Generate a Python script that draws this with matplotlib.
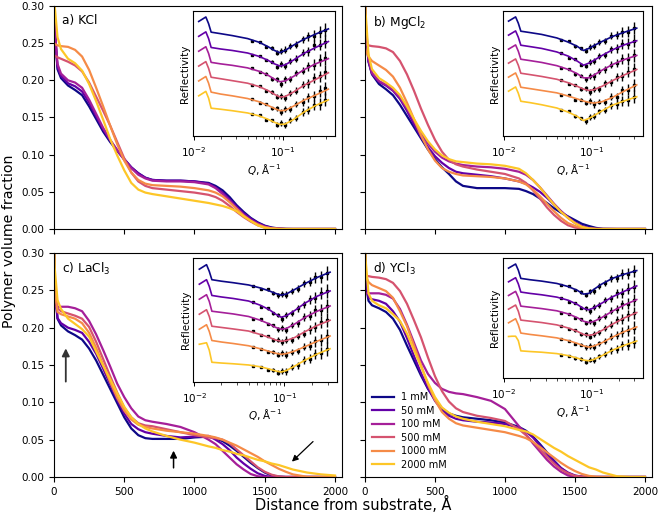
import numpy as np
import matplotlib
matplotlib.use("Agg")
import matplotlib.pyplot as plt
from matplotlib.ticker import NullFormatter, FixedLocator, LogLocator

# ---------------- profile data (distance from substrate, Angstrom) ----------------
distance = [0, 5, 25, 50, 100, 150, 200, 250, 300, 350, 400, 450, 500, 550, 600, 650, 700,
            800, 900, 1000, 1100, 1150, 1200, 1250, 1300, 1350, 1400, 1450, 1500, 1550, 1600,
            1650, 1700, 1800, 1900, 2000]
labels = ["1 mM", "50 mM", "100 mM", "500 mM", "1000 mM", "2000 mM"]

kcl_1 = [0.34, 0.27, 0.215, 0.203, 0.193, 0.187, 0.180, 0.165, 0.148, 0.131, 0.117, 0.105, 0.094, 0.083, 0.075, 0.069, 0.066, 0.065, 0.065, 0.064, 0.062, 0.058, 0.052, 0.043, 0.032, 0.023, 0.015, 0.009, 0.0045, 0.002, 0.0007, 0.0002, 0, 0, 0, 0]
kcl_50 = [0.34, 0.27, 0.218, 0.206, 0.196, 0.192, 0.185, 0.170, 0.152, 0.134, 0.119, 0.106, 0.094, 0.083, 0.075, 0.069, 0.066, 0.065, 0.065, 0.064, 0.061, 0.056, 0.049, 0.040, 0.030, 0.021, 0.014, 0.008, 0.004, 0.0015, 0.0005, 0, 0, 0, 0, 0]
kcl_100 = [0.34, 0.27, 0.222, 0.209, 0.200, 0.197, 0.190, 0.174, 0.155, 0.136, 0.120, 0.106, 0.093, 0.082, 0.073, 0.068, 0.065, 0.064, 0.064, 0.063, 0.060, 0.055, 0.047, 0.038, 0.028, 0.019, 0.012, 0.007, 0.003, 0.001, 0.0003, 0, 0, 0, 0, 0]
kcl_500 = [0.234, 0.233, 0.231, 0.229, 0.225, 0.220, 0.212, 0.197, 0.178, 0.159, 0.139, 0.117, 0.095, 0.076, 0.064, 0.058, 0.055, 0.053, 0.051, 0.049, 0.046, 0.043, 0.038, 0.031, 0.023, 0.016, 0.010, 0.005, 0.002, 0.0008, 0.0002, 0, 0, 0, 0, 0]
kcl_1000 = [0.250, 0.249, 0.247, 0.246, 0.245, 0.241, 0.232, 0.214, 0.190, 0.165, 0.139, 0.114, 0.092, 0.076, 0.066, 0.061, 0.059, 0.058, 0.057, 0.055, 0.052, 0.049, 0.044, 0.036, 0.027, 0.018, 0.011, 0.006, 0.0025, 0.0008, 0.0002, 0, 0, 0, 0, 0]
kcl_2000 = [0.34, 0.30, 0.258, 0.242, 0.229, 0.223, 0.213, 0.195, 0.172, 0.147, 0.121, 0.099, 0.079, 0.062, 0.053, 0.049, 0.047, 0.044, 0.041, 0.038, 0.035, 0.033, 0.031, 0.028, 0.024, 0.017, 0.011, 0.005, 0.0015, 0.0003, 0, 0, 0, 0, 0, 0]

mg_1 = [0.34, 0.27, 0.225, 0.208, 0.195, 0.188, 0.180, 0.167, 0.152, 0.137, 0.122, 0.107, 0.094, 0.083, 0.074, 0.064, 0.058, 0.055, 0.055, 0.055, 0.054, 0.051, 0.047, 0.041, 0.035, 0.028, 0.022, 0.017, 0.012, 0.007, 0.004, 0.0015, 0.0003, 0, 0, 0]
mg_50 = [0.34, 0.27, 0.226, 0.209, 0.198, 0.193, 0.186, 0.175, 0.159, 0.141, 0.124, 0.110, 0.098, 0.089, 0.082, 0.077, 0.075, 0.073, 0.071, 0.068, 0.064, 0.061, 0.056, 0.050, 0.042, 0.033, 0.024, 0.016, 0.009, 0.004, 0.0015, 0.0004, 0, 0, 0, 0]
mg_100 = [0.34, 0.28, 0.228, 0.210, 0.199, 0.194, 0.187, 0.177, 0.162, 0.145, 0.129, 0.115, 0.104, 0.096, 0.091, 0.088, 0.086, 0.084, 0.083, 0.081, 0.077, 0.073, 0.066, 0.056, 0.045, 0.034, 0.024, 0.015, 0.008, 0.003, 0.001, 0, 0, 0, 0, 0]
mg_500 = [0.250, 0.249, 0.247, 0.246, 0.245, 0.243, 0.238, 0.226, 0.208, 0.186, 0.162, 0.140, 0.120, 0.104, 0.093, 0.087, 0.084, 0.080, 0.077, 0.074, 0.068, 0.062, 0.052, 0.041, 0.029, 0.019, 0.011, 0.005, 0.002, 0.0006, 0, 0, 0, 0, 0, 0]
mg_1000 = [0.245, 0.240, 0.232, 0.226, 0.220, 0.214, 0.205, 0.190, 0.170, 0.148, 0.126, 0.107, 0.092, 0.082, 0.077, 0.074, 0.072, 0.071, 0.070, 0.068, 0.064, 0.060, 0.053, 0.044, 0.034, 0.024, 0.015, 0.008, 0.004, 0.0015, 0.0004, 0, 0, 0, 0, 0]
mg_2000 = [0.34, 0.29, 0.235, 0.215, 0.203, 0.197, 0.190, 0.180, 0.165, 0.148, 0.132, 0.118, 0.107, 0.099, 0.094, 0.091, 0.090, 0.088, 0.087, 0.085, 0.081, 0.075, 0.066, 0.056, 0.044, 0.033, 0.023, 0.015, 0.008, 0.003, 0.0008, 0, 0, 0, 0, 0]

la_1 = [0.34, 0.26, 0.212, 0.203, 0.195, 0.190, 0.184, 0.172, 0.156, 0.137, 0.118, 0.099, 0.080, 0.065, 0.056, 0.052, 0.051, 0.051, 0.051, 0.053, 0.054, 0.052, 0.048, 0.042, 0.035, 0.027, 0.019, 0.012, 0.006, 0.002, 0.0005, 0, 0, 0, 0, 0]
la_50 = [0.34, 0.25, 0.213, 0.206, 0.200, 0.197, 0.193, 0.181, 0.165, 0.145, 0.124, 0.103, 0.085, 0.071, 0.064, 0.060, 0.058, 0.055, 0.053, 0.054, 0.055, 0.050, 0.044, 0.036, 0.026, 0.018, 0.011, 0.005, 0.0015, 0, 0, 0, 0, 0, 0, 0]
la_100 = [0.228, 0.228, 0.228, 0.228, 0.228, 0.226, 0.222, 0.209, 0.191, 0.170, 0.148, 0.125, 0.107, 0.092, 0.081, 0.076, 0.074, 0.071, 0.067, 0.060, 0.050, 0.044, 0.035, 0.026, 0.017, 0.010, 0.004, 0.001, 0, 0, 0, 0, 0, 0, 0, 0]
la_500 = [0.30, 0.25, 0.226, 0.222, 0.219, 0.216, 0.212, 0.201, 0.181, 0.158, 0.135, 0.113, 0.093, 0.080, 0.072, 0.069, 0.068, 0.064, 0.060, 0.056, 0.053, 0.052, 0.050, 0.045, 0.037, 0.029, 0.021, 0.013, 0.007, 0.003, 0.0008, 0, 0, 0, 0, 0]
la_1000 = [0.30, 0.25, 0.221, 0.218, 0.215, 0.212, 0.206, 0.193, 0.173, 0.150, 0.127, 0.106, 0.089, 0.077, 0.070, 0.067, 0.065, 0.062, 0.060, 0.058, 0.055, 0.053, 0.050, 0.046, 0.042, 0.037, 0.032, 0.027, 0.021, 0.016, 0.011, 0.007, 0.0035, 0.0003, 0, 0]
la_2000 = [0.34, 0.28, 0.237, 0.225, 0.212, 0.205, 0.198, 0.188, 0.168, 0.149, 0.131, 0.112, 0.094, 0.080, 0.071, 0.065, 0.061, 0.055, 0.050, 0.046, 0.041, 0.039, 0.036, 0.034, 0.031, 0.029, 0.026, 0.023, 0.021, 0.018, 0.016, 0.013, 0.010, 0.006, 0.0035, 0.002]

y_1 = [0.34, 0.26, 0.236, 0.230, 0.226, 0.221, 0.212, 0.197, 0.176, 0.156, 0.136, 0.118, 0.104, 0.092, 0.085, 0.082, 0.080, 0.078, 0.076, 0.073, 0.067, 0.062, 0.054, 0.044, 0.033, 0.022, 0.012, 0.005, 0.0015, 0.0003, 0, 0, 0, 0, 0, 0]
y_50 = [0.34, 0.26, 0.240, 0.238, 0.236, 0.232, 0.222, 0.208, 0.186, 0.162, 0.139, 0.119, 0.102, 0.090, 0.082, 0.078, 0.076, 0.074, 0.073, 0.071, 0.066, 0.061, 0.053, 0.042, 0.031, 0.021, 0.012, 0.006, 0.002, 0.0005, 0, 0, 0, 0, 0, 0]
y_100 = [0.246, 0.246, 0.246, 0.246, 0.246, 0.244, 0.239, 0.225, 0.204, 0.180, 0.156, 0.138, 0.126, 0.118, 0.114, 0.112, 0.111, 0.107, 0.102, 0.091, 0.068, 0.057, 0.045, 0.034, 0.023, 0.014, 0.007, 0.002, 0.0003, 0, 0, 0, 0, 0, 0, 0]
y_500 = [0.269, 0.269, 0.269, 0.268, 0.267, 0.265, 0.260, 0.249, 0.232, 0.210, 0.187, 0.160, 0.135, 0.115, 0.101, 0.092, 0.087, 0.082, 0.079, 0.075, 0.064, 0.056, 0.047, 0.037, 0.027, 0.018, 0.010, 0.005, 0.0015, 0.0003, 0, 0, 0, 0, 0, 0]
y_1000 = [0.30, 0.27, 0.261, 0.257, 0.253, 0.249, 0.240, 0.222, 0.202, 0.176, 0.150, 0.124, 0.103, 0.087, 0.078, 0.072, 0.069, 0.066, 0.063, 0.060, 0.055, 0.052, 0.047, 0.040, 0.033, 0.026, 0.019, 0.013, 0.008, 0.004, 0.0015, 0.0004, 0, 0, 0, 0]
y_2000 = [0.34, 0.29, 0.246, 0.236, 0.230, 0.226, 0.218, 0.209, 0.192, 0.170, 0.148, 0.126, 0.107, 0.093, 0.086, 0.081, 0.078, 0.074, 0.071, 0.068, 0.063, 0.061, 0.057, 0.051, 0.045, 0.039, 0.034, 0.028, 0.023, 0.018, 0.013, 0.010, 0.006, 0.001, 0, 0]

# ---------------- inset reflectivity data (log R, arbitrary offset units) ----------------
q_fit = [0.0114, 0.0125, 0.0137, 0.0147, 0.0157, 0.020, 0.027, 0.040, 0.054, 0.068, 0.080,
         0.092, 0.105, 0.13, 0.17, 0.23, 0.32]
q_data = [0.045, 0.055, 0.065, 0.075, 0.085, 0.095, 0.105, 0.12, 0.14, 0.165, 0.19, 0.22, 0.255, 0.295]
r_err = [0.06, 0.07, 0.09, 0.12, 0.16, 0.20, 0.22, 0.20, 0.22, 0.25, 0.30, 0.35, 0.40, 0.45]

kcl_fit = [
    [0, 0.15, 0.30, -0.15, -0.72, -0.82, -0.95, -1.15, -1.40, -1.70, -1.95, -2.10, -1.95, -1.60, -1.20, -0.85, -0.50],
    [0, 0.15, 0.30, -0.15, -0.75, -0.85, -0.95, -1.12, -1.35, -1.62, -1.85, -2.00, -1.92, -1.60, -1.15, -0.75, -0.35],
    [0, 0.15, 0.30, -0.15, -0.75, -0.85, -0.95, -1.12, -1.35, -1.62, -1.88, -2.05, -2.00, -1.70, -1.25, -0.85, -0.50],
    [0, 0.15, 0.30, -0.15, -0.75, -0.85, -0.98, -1.15, -1.38, -1.65, -1.90, -2.08, -2.05, -1.75, -1.30, -0.90, -0.45],
    [0, 0.15, 0.30, -0.15, -0.75, -0.88, -1.00, -1.18, -1.40, -1.65, -1.85, -2.00, -1.98, -1.70, -1.30, -0.95, -0.55],
    [0, 0.15, 0.30, -0.15, -0.83, -0.90, -1.00, -1.15, -1.35, -1.58, -1.78, -1.92, -1.90, -1.60, -1.10, -0.65, -0.27]]
kcl_data = [
    [-1.30, -1.38, -1.70, -1.80, -2.10, -2.00, -1.90, -1.65, -1.55, -1.20, -1.00, -0.95, -0.70, -0.55],
    [-1.25, -1.30, -1.60, -1.70, -2.05, -1.85, -2.00, -1.65, -1.50, -1.10, -1.00, -0.60, -0.55, -0.35],
    [-1.15, -1.40, -1.50, -1.85, -1.90, -2.20, -1.90, -1.85, -1.45, -1.30, -1.00, -0.90, -0.60, -0.45],
    [-1.30, -1.35, -1.65, -1.75, -2.05, -2.00, -2.15, -1.80, -1.65, -1.25, -1.15, -0.80, -0.70, -0.40],
    [-1.20, -1.45, -1.55, -1.85, -1.85, -2.10, -1.90, -1.90, -1.55, -1.40, -1.10, -1.00, -0.70, -0.50],
    [-1.25, -1.30, -1.60, -1.65, -1.95, -1.85, -1.95, -1.65, -1.50, -1.10, -0.95, -0.60, -0.55, -0.25]]
mg_fit = [
    [0, 0.15, 0.30, -0.15, -0.72, -0.82, -0.95, -1.20, -1.50, -1.80, -2.10, -1.95, -1.75, -1.45, -1.10, -0.80, -0.50],
    [0, 0.15, 0.30, -0.15, -0.72, -0.82, -0.95, -1.20, -1.50, -1.85, -2.15, -2.00, -1.80, -1.45, -1.05, -0.70, -0.40],
    [0, 0.15, 0.30, -0.15, -0.72, -0.82, -0.95, -1.18, -1.45, -1.75, -2.05, -2.05, -1.85, -1.50, -1.10, -0.75, -0.45],
    [0, 0.15, 0.30, -0.15, -0.72, -0.82, -0.95, -1.15, -1.40, -1.65, -1.85, -1.95, -1.90, -1.65, -1.25, -0.85, -0.45],
    [0, 0.15, 0.30, -0.15, -0.72, -0.82, -0.95, -1.12, -1.35, -1.55, -1.70, -1.80, -1.85, -1.75, -1.45, -1.00, -0.55],
    [0, 0.15, 0.30, -0.15, -0.72, -0.82, -0.97, -1.20, -1.50, -1.80, -2.10, -1.95, -1.75, -1.40, -1.00, -0.70, -0.40]]
mg_data = [
    [-1.35, -1.45, -1.80, -1.95, -2.10, -1.85, -1.80, -1.50, -1.40, -1.05, -1.00, -0.80, -0.75, -0.50],
    [-1.25, -1.60, -1.70, -2.10, -2.20, -1.90, -1.85, -1.50, -1.40, -1.00, -0.95, -0.65, -0.60, -0.40],
    [-1.35, -1.40, -1.80, -1.90, -2.15, -1.90, -1.95, -1.55, -1.45, -1.10, -1.00, -0.70, -0.70, -0.45],
    [-1.20, -1.50, -1.55, -1.85, -1.80, -2.05, -1.85, -1.85, -1.45, -1.35, -1.00, -0.95, -0.60, -0.45],
    [-1.25, -1.30, -1.60, -1.60, -1.85, -1.70, -1.95, -1.75, -1.75, -1.40, -1.40, -0.95, -0.90, -0.55],
    [-1.35, -1.45, -1.80, -1.95, -2.15, -1.85, -1.80, -1.45, -1.35, -1.00, -0.95, -0.70, -0.65, -0.40]]
la_fit = [
    [0, 0.15, 0.30, -0.15, -0.70, -0.80, -0.90, -1.05, -1.25, -1.45, -1.62, -1.73, -1.65, -1.35, -0.95, -0.55, -0.20],
    [0, 0.15, 0.30, -0.15, -0.75, -0.85, -0.95, -1.12, -1.40, -1.70, -2.00, -2.20, -2.10, -1.75, -1.25, -0.80, -0.45],
    [0, 0.15, 0.30, -0.15, -0.80, -0.88, -0.98, -1.15, -1.40, -1.65, -1.88, -2.00, -1.95, -1.65, -1.20, -0.80, -0.45],
    [0, 0.15, 0.30, -0.15, -0.80, -0.88, -0.98, -1.12, -1.35, -1.55, -1.72, -1.80, -1.75, -1.55, -1.15, -0.75, -0.40],
    [0, 0.15, 0.30, -0.15, -0.75, -0.85, -0.95, -1.10, -1.30, -1.48, -1.60, -1.67, -1.62, -1.45, -1.15, -0.80, -0.45],
    [0, 0.05, 0.10, -0.40, -1.20, -1.25, -1.30, -1.38, -1.50, -1.65, -1.78, -1.85, -1.75, -1.45, -1.05, -0.65, -0.30]]
la_data = [
    [-1.10, -1.30, -1.35, -1.60, -1.75, -1.65, -1.70, -1.45, -1.30, -0.95, -0.85, -0.55, -0.50, -0.25],
    [-1.20, -1.50, -1.60, -1.95, -2.05, -2.30, -2.05, -1.95, -1.60, -1.35, -1.00, -0.90, -0.60, -0.45],
    [-1.30, -1.35, -1.65, -1.75, -2.00, -1.90, -2.05, -1.75, -1.60, -1.20, -1.10, -0.75, -0.70, -0.45],
    [-1.15, -1.40, -1.45, -1.70, -1.70, -1.85, -1.70, -1.70, -1.45, -1.30, -1.00, -0.85, -0.55, -0.40],
    [-1.20, -1.30, -1.50, -1.50, -1.70, -1.60, -1.70, -1.50, -1.45, -1.15, -1.10, -0.80, -0.70, -0.45],
    [-1.45, -1.50, -1.70, -1.70, -1.90, -1.80, -1.80, -1.50, -1.40, -1.05, -0.95, -0.65, -0.55, -0.30]]
y_fit = [
    [0, 0.15, 0.30, -0.15, -0.75, -0.85, -0.95, -1.12, -1.35, -1.62, -1.90, -1.85, -1.55, -1.15, -0.75, -0.45, -0.18],
    [0, 0.15, 0.30, -0.15, -0.75, -0.85, -0.95, -1.12, -1.35, -1.65, -1.95, -2.05, -1.90, -1.55, -1.10, -0.70, -0.30],
    [0, 0.15, 0.30, -0.15, -0.78, -0.86, -0.96, -1.12, -1.35, -1.62, -1.88, -1.98, -1.90, -1.60, -1.15, -0.70, -0.30],
    [0, 0.15, 0.30, -0.15, -0.80, -0.88, -0.98, -1.15, -1.38, -1.62, -1.85, -1.92, -1.85, -1.55, -1.10, -0.65, -0.25],
    [0, 0.15, 0.30, -0.15, -0.75, -0.85, -0.95, -1.10, -1.30, -1.50, -1.68, -1.78, -1.70, -1.45, -1.05, -0.65, -0.30],
    [0, 0.02, 0.02, -0.30, -1.05, -1.10, -1.15, -1.25, -1.40, -1.58, -1.72, -1.78, -1.68, -1.40, -1.00, -0.65, -0.33]]
y_data = [
    [-1.25, -1.30, -1.60, -1.75, -1.95, -1.70, -1.65, -1.30, -1.10, -0.75, -0.70, -0.45, -0.40, -0.20],
    [-1.15, -1.45, -1.55, -1.90, -1.95, -2.15, -1.85, -1.70, -1.35, -1.20, -0.85, -0.80, -0.50, -0.35],
    [-1.30, -1.35, -1.65, -1.75, -2.00, -1.90, -2.00, -1.65, -1.50, -1.10, -1.00, -0.65, -0.60, -0.35],
    [-1.20, -1.45, -1.55, -1.85, -1.85, -2.00, -1.80, -1.70, -1.35, -1.15, -0.80, -0.70, -0.45, -0.30],
    [-1.20, -1.30, -1.55, -1.60, -1.80, -1.70, -1.75, -1.50, -1.35, -1.00, -0.90, -0.65, -0.55, -0.35],
    [-1.35, -1.40, -1.60, -1.65, -1.85, -1.70, -1.75, -1.45, -1.30, -1.00, -0.90, -0.65, -0.60, -0.40]]

# curve offsets in the insets (stacking, as in the original)
offsets_a = [7.7, 6.7, 5.7, 4.7, 3.7, 2.7]
offsets_b = [8.2, 7.2, 6.2, 5.2, 4.2, 3.2]
offsets_c = [7.5, 6.5, 5.5, 4.5, 3.5, 2.5]
offsets_d = [8.05, 7.05, 6.05, 5.05, 4.05, 3.05]

panel_titles = ["a) KCl", "b) MgCl$_2$", "c) LaCl$_3$", "d) YCl$_3$"]

# ---------------- drawing ----------------
colors = [plt.cm.plasma(v) for v in (0.0, 0.18, 0.36, 0.54, 0.72, 0.88)]

fig = plt.figure(figsize=(6.6, 5.16), dpi=100)
rects = [[0.0818, 0.5562, 0.4364, 0.4322], [0.5530, 0.5562, 0.4348, 0.4322],
         [0.0818, 0.0756, 0.4364, 0.4341], [0.5530, 0.0756, 0.4348, 0.4341]]
inset_rects = [[0.482, 0.417, 0.494, 0.561], [0.480, 0.417, 0.490, 0.561],
               [0.484, 0.425, 0.498, 0.551], [0.480, 0.441, 0.490, 0.536]]
profiles = [[kcl_1, kcl_50, kcl_100, kcl_500, kcl_1000, kcl_2000],
            [mg_1, mg_50, mg_100, mg_500, mg_1000, mg_2000],
            [la_1, la_50, la_100, la_500, la_1000, la_2000],
            [y_1, y_50, y_100, y_500, y_1000, y_2000]]
fits = [kcl_fit, mg_fit, la_fit, y_fit]
datas = [kcl_data, mg_data, la_data, y_data]
offs = [offsets_a, offsets_b, offsets_c, offsets_d]
inset_ylims = [8.41, 8.93, 8.22, 8.78]

axes = []
for i in range(4):
    ax = fig.add_axes(rects[i])
    axes.append(ax)
    for k in range(6):
        ax.plot(distance, profiles[i][k], color=colors[k], lw=1.6, label=labels[k])
    ax.set_xlim(0, 2050)
    ax.set_ylim(0, 0.30)
    ax.set_xticks([0, 500, 1000, 1500, 2000])
    ax.set_yticks([0, 0.05, 0.10, 0.15, 0.20, 0.25, 0.30])
    ax.tick_params(labelsize=7.5, length=3.5, width=0.8)
    if i in (0, 1):
        ax.tick_params(labelbottom=False)
    if i in (1, 3):
        ax.tick_params(labelleft=False)
    else:
        ax.set_yticklabels(["0.00", "0.05", "0.10", "0.15", "0.20", "0.25", "0.30"])
    ax.text(0.028, 0.965, panel_titles[i], transform=ax.transAxes, ha="left", va="top", fontsize=8.8)

    ins = ax.inset_axes(inset_rects[i])
    for k in range(6):
        ins.errorbar(q_data, np.array(datas[i][k]) + offs[i][k], yerr=r_err, fmt="s", ms=1.6,
                     color="k", ecolor="k", elinewidth=1.0, capsize=0, zorder=2)
        ins.plot(q_fit, np.array(fits[i][k]) + offs[i][k], color=colors[k], lw=1.2, zorder=3)
    ins.set_xscale("log")
    ins.set_xlim(0.0098, 0.38)
    ins.set_ylim(0, inset_ylims[i])
    ins.set_yticks([])
    ins.xaxis.set_major_locator(FixedLocator([0.01, 0.1]))
    ins.xaxis.set_minor_locator(FixedLocator([0.02, 0.03, 0.04, 0.05, 0.06, 0.07, 0.08, 0.09, 0.2, 0.3]))
    ins.xaxis.set_minor_formatter(NullFormatter())
    ins.set_xticklabels(["$10^{-2}$", "$10^{-1}$"])
    ins.tick_params(labelsize=7.5, length=3, width=0.7)
    ins.tick_params(which="minor", length=1.8, width=0.5)
    ins.set_xlabel("$Q$, Å$^{-1}$", fontsize=7.5, labelpad=2)
    ins.set_ylabel("Reflectivity", fontsize=7.5, labelpad=2)

# annotation arrows in panel c
arrow_up1 = ((84, 0.176), (84, 0.124))
arrow_up2 = ((851, 0.039), (851, 0.0085))
arrow_diag = ((1679, 0.018), (1858, 0.050))
axes[2].annotate("", xy=arrow_up1[0], xytext=arrow_up1[1],
                 arrowprops=dict(arrowstyle="-|>", color="#333333", lw=1.3, mutation_scale=11))
axes[2].annotate("", xy=arrow_up2[0], xytext=arrow_up2[1],
                 arrowprops=dict(arrowstyle="-|>", color="k", lw=1.1, mutation_scale=10))
axes[2].annotate("", xy=arrow_diag[0], xytext=arrow_diag[1],
                 arrowprops=dict(arrowstyle="-|>", color="k", lw=0.9, mutation_scale=9))

axes[3].legend(loc="lower left", bbox_to_anchor=(0.0, 0.0), frameon=False, fontsize=7,
               handlelength=2.2, labelspacing=0.36, borderaxespad=0.35)

fig.text(0.013, 0.532, "Polymer volume fraction", rotation=90, ha="center", va="center", fontsize=10.2)
fig.text(0.535, 0.022, "Distance from substrate, Å", ha="center", va="center", fontsize=10.5)

fig.savefig("out.png", dpi=100)
